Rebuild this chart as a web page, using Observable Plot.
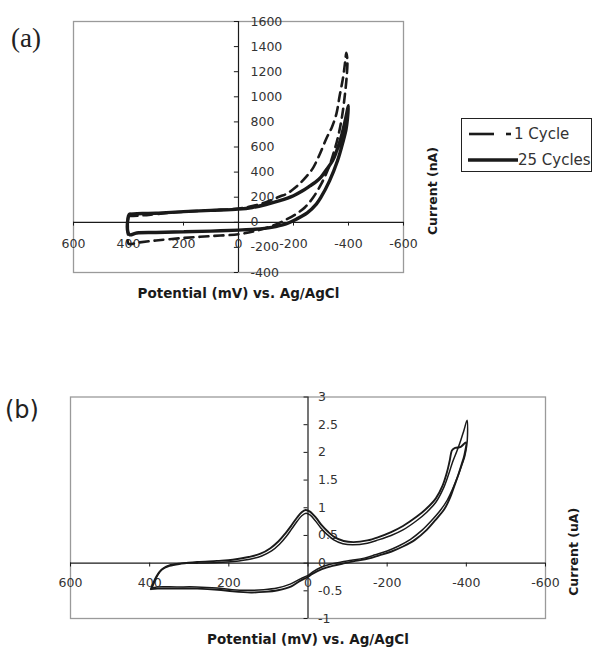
<!DOCTYPE html>
<html><head><meta charset="utf-8">
<script src="https://cdn.jsdelivr.net/npm/d3@7"></script>
<script src="https://cdn.jsdelivr.net/npm/@observablehq/plot@0.6"></script>
<style>
body{margin:0;background:#fff;width:592px;height:652px;overflow:hidden;position:relative;font-family:"DejaVu Sans",sans-serif;color:#222}
#pa,#pb{position:absolute;left:0}
#pa{top:0}#pb{top:360px}
.lab{position:absolute;line-height:1}
#legend{position:absolute;left:461px;top:118px;width:129px;height:52px;border:1px solid #222;background:#fff}
</style></head><body>
<div id="pa"></div><div id="pb"></div>
<div class="lab" style="left:11px;top:25px;font-size:27px;font-family:'Liberation Serif',serif">(a)</div>
<div class="lab" style="left:5px;top:398px;font-size:24px;font-family:'DejaVu Sans',sans-serif">(b)</div>
<div id="legend"></div>
<script>
// ---- data ----
const xTicks = [600, 400, 200, 0, -200, -400, -600];
const yTicksA = [1600, 1400, 1200, 1000, 800, 600, 400, 200, 0, -200, -400];
const yTicksB = [3, 2.5, 2, 1.5, 1, 0.5, 0, -0.5, -1];
const xTitle = "Potential (mV) vs. Ag/AgCl";
const yTitleA = "Current (nA)";
const yTitleB = "Current (uA)";
const seriesNames = ["1 Cycle", "25 Cycles"];

// panel (a): potential (mV), current (nA)
const cycle1 = [
[400,50],[350,55],[300,65],[200,85],[100,95],[0,110],[-50,130],[-100,160],[-150,205],[-175,227],[-200,265],[-222,307],[-245,360],[-269,426],[-295,540],[-320,670],[-340,760],[-356,864],[-368,1010],[-380,1150],[-388,1280],[-392,1350],
[-396,1290],[-393,1150],[-386,1000],[-377,850],[-364,700],[-347,560],[-327,430],[-302,310],[-272,200],[-242,120],[-212,70],[-172,20],[-120,-30],[-60,-70],[0,-95],[100,-110],[200,-125],[300,-145],[360,-160],[400,-170],[402,-100],[402,20],[400,50]];
const cycle25 = [
[395,65],[350,70],[300,72],[200,85],[100,95],[0,105],[-50,118],[-100,142],[-150,172],[-200,212],[-233,251],[-260,290],[-280,320],[-300,360],[-320,420],[-342,490],[-357,570],[-371,660],[-386,790],[-400,930],
[-396,820],[-391,740],[-381,650],[-360,490],[-331,330],[-300,200],[-283,145],[-250,75],[-210,25],[-170,-15],[-120,-40],[-60,-55],[0,-62],[100,-70],[200,-76],[300,-81],[370,-85],[395,-100],[402,-80],[402,30],[398,60],[395,65]];

// panel (b): potential (mV), current (uA)
const loopA = [
[397,-0.47],[392,-0.38],[383,-0.24],[370,-0.12],[350,-0.05],[320,-0.01],[280,0.02],[230,0.04],[190,0.06],[150,0.11],[120,0.17],[95,0.27],[75,0.39],[58,0.53],[42,0.68],[28,0.82],[16,0.92],[6,0.96],[-5,0.93],[-20,0.82],[-35,0.68],[-50,0.57],[-67,0.47],[-90,0.4],[-115,0.38],[-150,0.41],[-178,0.47],[-210,0.56],[-240,0.67],[-275,0.84],[-300,0.99],[-323,1.17],[-340,1.4],[-351,1.64],[-358,1.85],[-364,2.04],[-372,2.08],[-386,2.1],[-399,2.18],
[-395,1.95],[-388,1.78],[-380,1.6],[-370,1.4],[-360,1.2],[-345,0.98],[-321,0.77],[-300,0.6],[-270,0.42],[-240,0.3],[-211,0.21],[-180,0.14],[-152,0.08],[-120,0.04],[-93,0.0],[-62,-0.05],[-35,-0.11],[-12,-0.19],[3,-0.26],[20,-0.32],[42,-0.42],[76,-0.49],[110,-0.52],[144,-0.53],[190,-0.51],[228,-0.48],[280,-0.46],[330,-0.46],[380,-0.46],[397,-0.47]];
const loopB = [
[394,-0.45],[389,-0.36],[380,-0.22],[367,-0.1],[347,-0.03],[317,0.0],[277,0.0],[227,0.01],[187,0.03],[147,0.07],[117,0.13],[92,0.22],[72,0.34],[55,0.48],[40,0.63],[27,0.76],[15,0.86],[5,0.9],[-5,0.87],[-18,0.77],[-32,0.64],[-48,0.52],[-65,0.42],[-88,0.35],[-113,0.33],[-150,0.36],[-178,0.42],[-210,0.5],[-240,0.6],[-275,0.77],[-300,0.92],[-323,1.1],[-342,1.35],[-355,1.6],[-366,1.84],[-376,2.02],[-386,2.22],[-394,2.4],[-402,2.58],
[-403,2.32],[-401,2.12],[-396,1.93],[-388,1.76],[-378,1.56],[-366,1.35],[-352,1.14],[-334,0.95],[-311,0.76],[-289,0.6],[-259,0.43],[-229,0.31],[-200,0.22],[-170,0.15],[-142,0.09],[-110,0.05],[-84,0.02],[-56,-0.02],[-32,-0.08],[-12,-0.16],[0,-0.22],[18,-0.28],[45,-0.38],[78,-0.45],[112,-0.48],[146,-0.49],[192,-0.48],[230,-0.45],[282,-0.43],[332,-0.43],[382,-0.43],[394,-0.45]];

// ---- shared styling ----
const ink = "#1a1a1a";
const tickFont = 12.5;
const fam = "DejaVu Sans, sans-serif";

// ---- panel (a) ----
const pa = Plot.plot({
  width: 592, height: 310,
  marginLeft: 73, marginRight: 189, marginTop: 21, marginBottom: 38,
  x: {domain: [600, -600], axis: null},
  y: {domain: [-400, 1600], axis: null},
  style: {fontFamily: fam, color: ink, overflow: "visible"},
  marks: [
    Plot.frame({stroke: "#9a9a9a", strokeWidth: 1.3}),
    Plot.ruleY([0], {stroke: ink, strokeWidth: 1.2}),
    Plot.ruleX([0], {stroke: ink, strokeWidth: 1.2}),
    Plot.ruleX(xTicks, {x: d => d, y1: 0, y2: -30, stroke: ink}),
    Plot.ruleY(yTicksA, {y: d => d, x1: 0, x2: 15, stroke: ink}),
    Plot.text(xTicks, {x: d => d, y: 0, dy: 22, text: d => String(d), fontSize: tickFont, fill: "#333"}),
    Plot.text(yTicksA, {x: 0, y: d => d, dx: 12, text: d => String(d), textAnchor: "start", fontSize: tickFont, fill: "#333"}),
    Plot.line(cycle25, {x: d => d[0], y: d => d[1], stroke: ink, strokeWidth: 3.4, curve: "catmull-rom"}),
    Plot.line(cycle1, {x: d => d[0], y: d => d[1], stroke: ink, strokeWidth: 2.6, strokeDasharray: "9,6", curve: "catmull-rom"}),
    Plot.text([xTitle], {text: d => d, frameAnchor: "bottom", dy: 25, fontWeight: "bold", fontSize: 13.5}),
    Plot.text([yTitleA], {text: d => d, frameAnchor: "right", dx: 29, rotate: -90, fontWeight: "bold", fontSize: 12.5})
  ]
});
document.getElementById("pa").appendChild(pa);

// ---- panel (b) ----
const pb = Plot.plot({
  width: 592, height: 292,
  marginLeft: 70, marginRight: 47, marginTop: 36.5, marginBottom: 34,
  x: {domain: [600, -600], axis: null},
  y: {domain: [-1, 3], axis: null},
  style: {fontFamily: fam, color: ink, overflow: "visible"},
  marks: [
    Plot.frame({stroke: "#9a9a9a", strokeWidth: 1.3}),
    Plot.ruleY([0], {stroke: ink, strokeWidth: 1.2}),
    Plot.ruleX([0], {stroke: ink, strokeWidth: 1.2}),
    Plot.ruleX(xTicks, {x: d => d, y1: 0, y2: -0.07, stroke: ink}),
    Plot.ruleY(yTicksB, {y: d => d, x1: 0, x2: 10, stroke: ink}),
    Plot.text(xTicks, {x: d => d, y: 0, dy: 20, text: d => String(d), fontSize: tickFont, fill: "#333"}),
    Plot.text(yTicksB, {x: 0, y: d => d, dx: 10, text: d => String(d), textAnchor: "start", fontSize: tickFont, fill: "#333"}),
    Plot.line(loopA, {x: d => d[0], y: d => d[1], stroke: ink, strokeWidth: 1.9, curve: "catmull-rom"}),
    Plot.line(loopB, {x: d => d[0], y: d => d[1], stroke: ink, strokeWidth: 1.5, curve: "catmull-rom"}),
    Plot.text([xTitle], {text: d => d, frameAnchor: "bottom", dy: 25, fontWeight: "bold", fontSize: 13.5}),
    Plot.text([yTitleB], {text: d => d, frameAnchor: "right", dx: 28, rotate: -90, fontWeight: "bold", fontSize: 12.5})
  ]
});
document.getElementById("pb").appendChild(pb);

// ---- legend ----
const lg = d3.select("#legend").append("svg").attr("width", 129).attr("height", 52);
lg.append("line").attr("x1", 7).attr("x2", 32).attr("y1", 15).attr("y2", 15)
  .attr("stroke", ink).attr("stroke-width", 2.6);
lg.append("line").attr("x1", 44).attr("x2", 49).attr("y1", 15).attr("y2", 15)
  .attr("stroke", ink).attr("stroke-width", 2.6);
lg.append("line").attr("x1", 6).attr("x2", 56).attr("y1", 41).attr("y2", 41)
  .attr("stroke", ink).attr("stroke-width", 3.4);
lg.append("text").attr("x", 52).attr("y", 15).attr("dy", "0.35em").text(seriesNames[0])
  .attr("font-size", 15).attr("fill", "#333").attr("font-family", fam);
lg.append("text").attr("x", 56).attr("y", 41).attr("dy", "0.35em").text(seriesNames[1])
  .attr("font-size", 15).attr("fill", "#333").attr("font-family", fam);
</script>
</body></html>
